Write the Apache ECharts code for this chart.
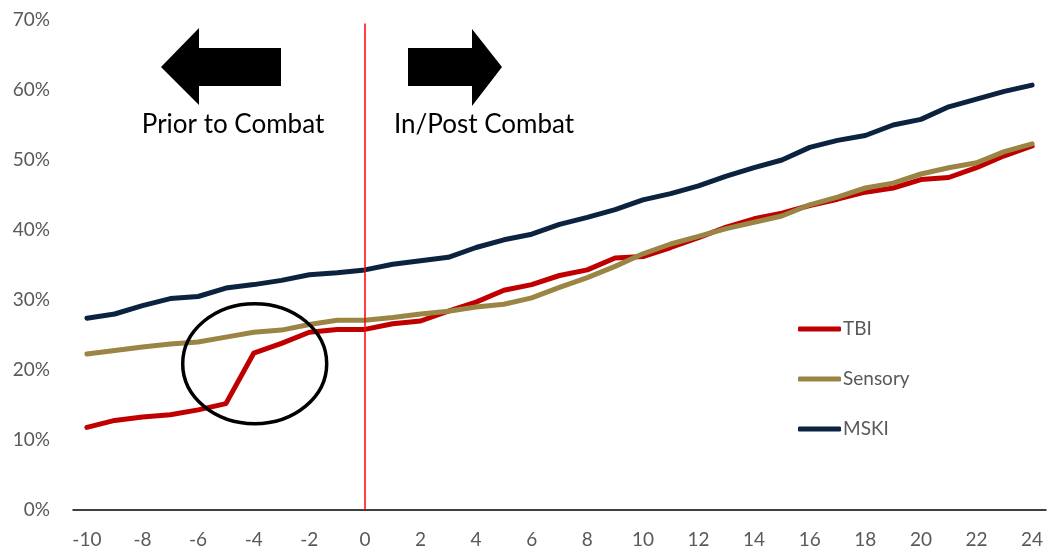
<!DOCTYPE html>
<html>
<head>
<meta charset="utf-8">
<script src="https://cdn.jsdelivr.net/npm/echarts@6/dist/echarts.min.js"></script>
<style>
  html, body { margin: 0; padding: 0; background: #fff; }
  #chart { width: 1049px; height: 554px; }
</style>
</head>
<body>
<div id="chart"></div>
<script>
// Months relative to combat deployment
const months = [];
for (let m = -10; m <= 24; m++) months.push(String(m));

// Cumulative share of members with each diagnosis (%)
const tbi = [11.8, 12.8, 13.3, 13.6, 14.3, 15.2, 22.4, 23.8, 25.4, 25.8, 25.8,
  26.6, 27.0, 28.4, 29.7, 31.4, 32.2, 33.5, 34.3, 36.0, 36.2, 37.5, 38.9,
  40.4, 41.6, 42.4, 43.5, 44.4, 45.4, 46.0, 47.2, 47.5, 48.9, 50.6, 52.0];
const sensory = [22.3, 22.8, 23.3, 23.7, 24.0, 24.7, 25.4, 25.7, 26.5, 27.1, 27.1,
  27.5, 28.0, 28.4, 29.0, 29.4, 30.3, 31.8, 33.2, 34.8, 36.6, 38.0, 39.1,
  40.2, 41.1, 42.0, 43.6, 44.7, 46.0, 46.7, 48.0, 48.9, 49.6, 51.2, 52.3];
const mski = [27.4, 28.0, 29.2, 30.2, 30.5, 31.7, 32.2, 32.8, 33.6, 33.9, 34.3,
  35.1, 35.6, 36.1, 37.5, 38.6, 39.4, 40.8, 41.8, 42.9, 44.3, 45.2, 46.3,
  47.7, 48.9, 50.0, 51.8, 52.8, 53.5, 55.0, 55.8, 57.6, 58.7, 59.8, 60.7];

const seriesNames = ['TBI', 'Sensory', 'MSKI'];
const yTicks = { min: 0, max: 70, interval: 10 };

const FONT = 'Lato, "Open Sans", sans-serif';
const GREY = '#595959';

const chart = echarts.init(document.getElementById('chart'), null, { renderer: 'canvas' });

function lineSeries(name, data, color) {
  return {
    name: name,
    type: 'line',
    data: data,
    symbol: 'none',
    smooth: false,
    animation: false,
    lineStyle: { color: color, width: 5, cap: 'round', join: 'round' },
    itemStyle: { color: color }
  };
}

const series = [
  lineSeries(seriesNames[0], tbi, '#C00000'),
  lineSeries(seriesNames[1], sensory, '#9A8545'),
  lineSeries(seriesNames[2], mski, '#0C2340')
];

// Combat start marker at month 0
series[0].markLine = {
  silent: true,
  symbol: 'none',
  animation: false,
  label: { show: false },
  lineStyle: { color: '#FF0000', width: 1.5, type: 'solid' },
  data: [[{ xAxis: '0', yAxis: 69.5 }, { xAxis: '0', yAxis: 0 }]]
};

chart.setOption({
  animation: false,
  backgroundColor: '#ffffff',
  grid: { left: 73, right: 3, top: 20, bottom: 44, containLabel: false },
  legend: {
    orient: 'vertical',
    left: 793,
    top: 314,
    itemWidth: 43,
    itemHeight: 5,
    itemGap: 30,
    icon: 'roundRect',
    data: seriesNames,
    textStyle: { fontFamily: FONT, fontSize: 19, color: GREY, lineHeight: 20, padding: [0, 0, 0, -3] }
  },
  xAxis: {
    type: 'category',
    data: months,
    boundaryGap: true,
    axisLine: { lineStyle: { color: '#000000', width: 1.5 } },
    axisTick: { show: false },
    axisLabel: { interval: 1, margin: 20, fontFamily: FONT, fontSize: 19, color: GREY }
  },
  yAxis: {
    type: 'value',
    min: yTicks.min,
    max: yTicks.max,
    interval: yTicks.interval,
    axisLine: { show: false },
    axisTick: { show: false },
    splitLine: { show: false },
    axisLabel: { formatter: '{value}%', margin: 23, fontFamily: FONT, fontSize: 19, color: GREY }
  },
  series: series
});

// Annotations: direction arrows, phase captions and the highlight ring
const ringCenter = chart.convertToPixel({ gridIndex: 0 }, ['-4', 20.9]);
chart.setOption({
  graphic: [
    {
      type: 'polygon',
      shape: { points: [[161, 67], [199, 28], [199, 48], [281, 48], [281, 86], [199, 86], [199, 105]] },
      style: { fill: '#000000' }
    },
    {
      type: 'polygon',
      shape: { points: [[408, 48], [472, 48], [472, 29], [502, 67], [472, 106], [472, 86], [408, 86]] },
      style: { fill: '#000000' }
    },
    {
      type: 'text',
      x: 233, y: 125,
      style: { text: 'Prior to Combat', fontFamily: FONT, fontSize: 26, fill: '#000000', align: 'center', verticalAlign: 'middle' }
    },
    {
      type: 'text',
      x: 394, y: 125,
      style: { text: 'In/Post Combat', fontFamily: FONT, fontSize: 26, fill: '#000000', align: 'left', verticalAlign: 'middle' }
    },
    {
      type: 'ellipse',
      shape: { cx: ringCenter[0] + 1, cy: ringCenter[1], rx: 72, ry: 60 },
      style: { fill: 'none', stroke: '#000000', lineWidth: 3.5 },
      z: 10
    }
  ]
});
</script>
</body>
</html>
